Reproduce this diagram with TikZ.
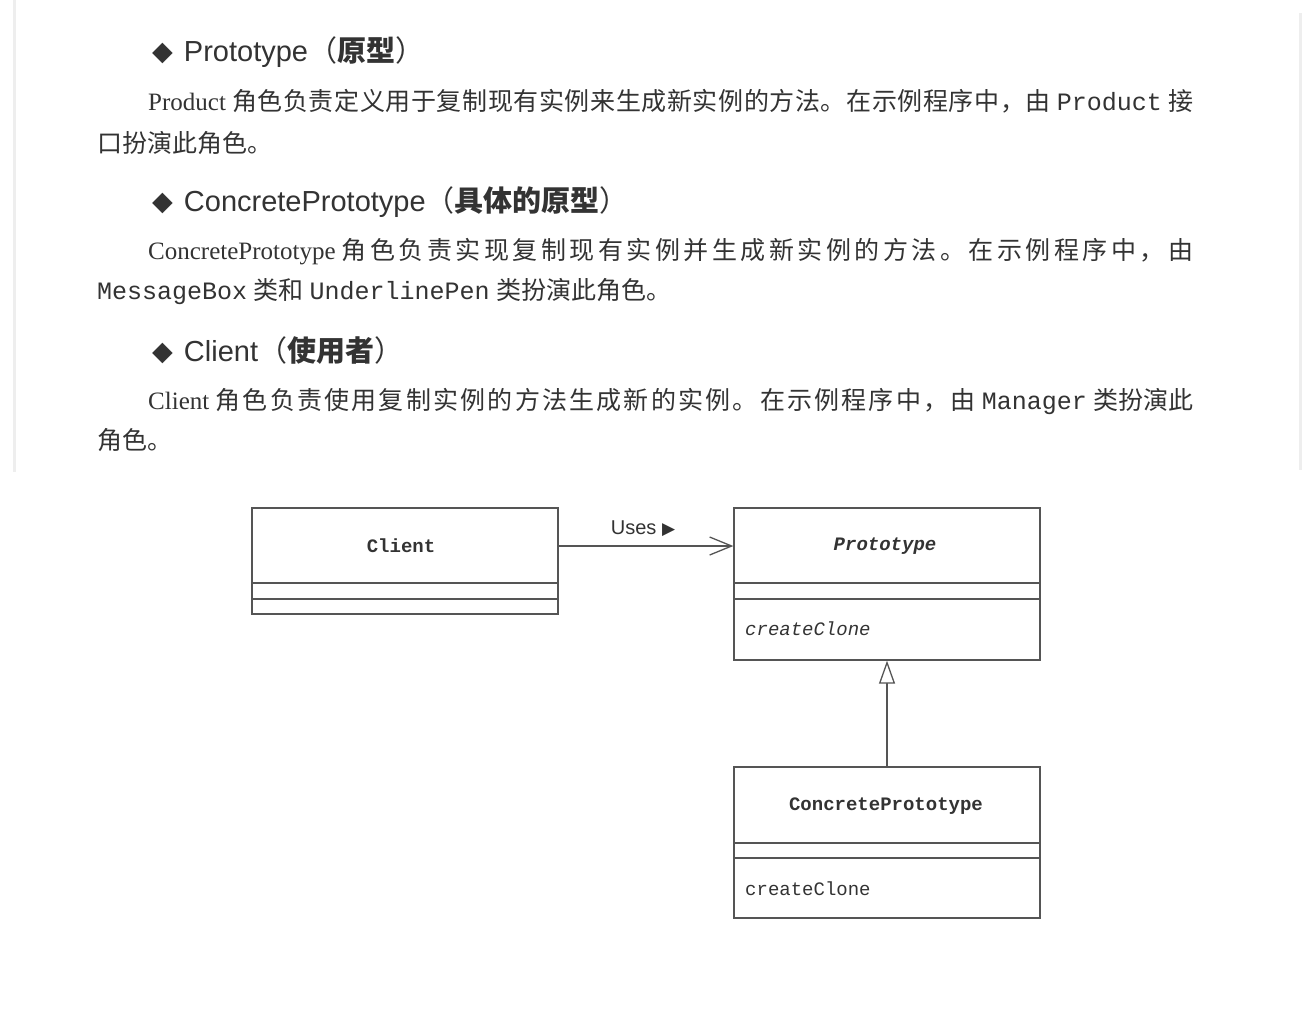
\documentclass[tikz,border=0pt]{standalone}
\usepackage{fontspec}
\setmainfont{Liberation Serif}
\setsansfont{Liberation Sans}
\setmonofont{Liberation Mono}
\newfontfamily\cjk{Noto Sans CJK SC}
\newfontfamily\symf{DejaVu Sans}
\usetikzlibrary{arrows.meta}
\newcommand{\zh}[1]{{\cjk #1}}
% spread CJK characters: stretchable glue between every two characters
\def\spreadend{\spreadend}
\newcommand\zhs[1]{{\cjk\spreadA#1\spreadend}}
\def\spreadA#1{#1\spreadB}
\def\spreadB#1{\ifx#1\spreadend\else\hskip 0pt plus 1fil\relax#1\expandafter\spreadB\fi}
\newcommand{\dia}{{\symf\fontsize{27}{30}\selectfont\raisebox{1pt}{◆}}\hspace{11pt}}
\definecolor{txt}{HTML}{333333}
\definecolor{ln}{HTML}{555555}
\definecolor{edge}{HTML}{EEEEEE}
\tikzset{
  body/.style={anchor=base west, inner sep=0pt, text=txt, font=\fontsize{25}{30}\selectfont},
  head/.style={anchor=base west, inner sep=0pt, text=txt, font=\sffamily\fontsize{29}{32}\selectfont},
  umlbox/.style={draw=ln, line width=1.3pt, fill=white, inner sep=0pt},
  sepline/.style={draw=ln, line width=1.3pt},
  cname/.style={inner sep=0pt, text=txt, font=\ttfamily\bfseries\fontsize{19}{22}\selectfont},
  member/.style={anchor=west, inner sep=0pt, text=txt, font=\ttfamily\fontsize{19}{22}\selectfont},
  usesl/.style={inner sep=0pt, text=txt, font=\sffamily\fontsize{20}{24}\selectfont},
  assoc/.style={draw=ln, line width=1.3pt, -{Straight Barb[length=22pt, width=18pt, line width=1.3pt]}},
  inherit/.style={draw=ln, line width=1.3pt, -{Triangle[open, length=23pt, width=16pt, line width=1.3pt, fill=white]}},
}
\begin{document}
\begin{tikzpicture}[x=1pt, y=-1pt]
\fill[white] (0,0) rectangle (1316,1010);
\useasboundingbox (0,0) rectangle (1316,1010);
% faint page edges
\draw[edge, line width=3pt] (14,0) -- (14,472);
\draw[edge, line width=3pt] (1300,13) -- (1300,470);

% section 1
\node[head] (h1) at (152,61) {\dia Prototype\zh{（{\bfseries 原型}）}};
\node[body] (p1a) at (148,110) {\hbox to 1045pt{Product \zhs{角色负责定义用于复制现有实例来生成新实例的方法。在示例程序中，由} \texttt{Product} \zh{接}}};
\node[body] (p1b) at (97,152) {\zh{口扮演此角色。}};

% section 2
\node[head] (h2) at (152,211) {\dia ConcretePrototype\zh{（{\bfseries 具体的原型}）}};
\node[body] (p2a) at (148,259) {\hbox to 1045pt{ConcretePrototype \zhs{角色负责实现复制现有实例并生成新实例的方法。在示例程序中，由}}};
\node[body] (p2b) at (97,299) {\texttt{MessageBox} \zh{类和} \texttt{UnderlinePen} \zh{类扮演此角色。}};

% section 3
\node[head] (h3) at (152,361) {\dia Client\zh{（{\bfseries 使用者}）}};
\node[body] (p3a) at (148,409) {\hbox to 1045pt{Client \zhs{角色负责使用复制实例的方法生成新的实例。在示例程序中，由} \texttt{Manager} \zh{类扮演此}}};
\node[body] (p3b) at (97,449) {\zh{角色。}};

% UML diagram
\node[umlbox, minimum width=306pt, minimum height=106pt] (client) at (405,561) {};
\node[cname] (clientn) at (401,546) {Client};
\draw[sepline] (client.west |- 0,583) -- (client.east |- 0,583);
\draw[sepline] (client.west |- 0,599) -- (client.east |- 0,599);

\node[umlbox, minimum width=306pt, minimum height=152pt] (proto) at (887,584) {};
\node[cname, font=\ttfamily\bfseries\itshape\fontsize{19}{22}\selectfont] (proton) at (885,546) {Prototype};
\draw[sepline] (proto.west |- 0,583) -- (proto.east |- 0,583);
\draw[sepline] (proto.west |- 0,599) -- (proto.east |- 0,599);
\node[member, font=\ttfamily\itshape\fontsize{19}{22}\selectfont] (protom) at (745,629) {createClone};

\node[umlbox, minimum width=306pt, minimum height=151pt] (concrete) at (887,842.5) {};
\node[cname] (concreten) at (886,806) {ConcretePrototype};
\draw[sepline] (concrete.west |- 0,843) -- (concrete.east |- 0,843);
\draw[sepline] (concrete.west |- 0,858) -- (concrete.east |- 0,858);
\node[member] (concretem) at (745,889) {createClone};

% connectors
\draw[assoc] (client.east |- clientn) -- (proto.west |- clientn);
\node[usesl] (uses) at (643,529) {Uses {\symf\fontsize{17}{20}\selectfont ▶}};
\draw[inherit] (concrete.north) -- (proto.south);
\end{tikzpicture}
\end{document}
